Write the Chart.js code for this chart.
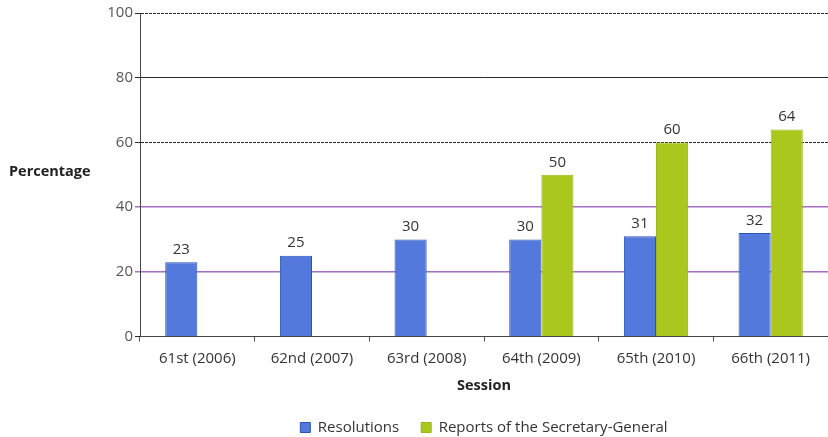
<!DOCTYPE html>
<html>
<head>
<meta charset="utf-8">
<script src="https://cdn.jsdelivr.net/npm/chart.js@4"></script>
<style>
  html, body { margin: 0; padding: 0; background: #fff; }
  #wrap { width: 828px; height: 437px; }
</style>
</head>
<body>
<div id="wrap"><canvas id="sessionChart"></canvas></div>
<script>
const sessions = ["61st (2006)", "62nd (2007)", "63rd (2008)", "64th (2009)", "65th (2010)", "66th (2011)"];
const resolutions = [23, 25, 30, 30, 31, 32];
const reports = [null, null, null, 50, 60, 64];
const yTicks = [0, 20, 40, 60, 80, 100];

const fontFamily = "'Open Sans', 'Noto Sans', sans-serif";

// value labels above each bar
const barLabels = {
    id: 'barLabels',
    afterDatasetsDraw(chart) {
        const ctx = chart.ctx;
        ctx.save();
        ctx.font = `15px ${fontFamily}`;
        ctx.fillStyle = '#333';
        ctx.textAlign = 'center';
        ctx.textBaseline = 'bottom';
        chart.data.datasets.forEach((ds, i) => {
            chart.getDatasetMeta(i).data.forEach((bar, j) => {
                if (ds.data[j] == null) return;
                ctx.fillText(ds.data[j], bar.x, bar.y - 5);
            });
        });
        ctx.restore();
    }
};

// horizontal y axis title on the left
const sideTitle = {
    id: 'sideTitle',
    afterDraw(chart) {
        const ctx = chart.ctx;
        const y = chart.scales.y.getPixelForValue(51);
        ctx.save();
        ctx.font = `bold 14.5px ${fontFamily}`;
        ctx.fillStyle = '#222';
        ctx.textAlign = 'left';
        ctx.textBaseline = 'middle';
        ctx.fillText('Percentage', 9, y);
        ctx.restore();
    }
};

new Chart(document.getElementById('sessionChart'), {
    type: 'bar',
    data: {
        labels: sessions,
        datasets: [
            {
                label: 'Resolutions',
                data: resolutions,
                backgroundColor: '#5479dc',
                borderColor: '#2a53b5',
                borderWidth: 1
            },
            {
                label: 'Reports of the Secretary-General',
                data: reports,
                backgroundColor: '#a9c71d',
                borderColor: '#9ab818',
                borderWidth: 1
            }
        ]
    },
    options: {
        responsive: true,
        maintainAspectRatio: false,
        animation: false,
        layout: { padding: { top: 13, right: 0, left: 0, bottom: -8 } },
        datasets: {
            bar: { categoryPercentage: 0.56, barPercentage: 1 }
        },
        scales: {
            x: {
                grid: { drawOnChartArea: false, offset: true, tickLength: 5, color: '#555' },
                border: { color: '#444', dash: [3, 1] },
                ticks: { color: '#333', font: { size: 15, family: fontFamily }, padding: 8 },
                title: {
                    display: true,
                    text: 'Session',
                    color: '#222',
                    font: { size: 14.5, weight: 'bold', family: fontFamily },
                    padding: { top: 2, bottom: 3 }
                }
            },
            y: {
                min: 0,
                max: 100,
                afterFit(scale) { scale.width = 140; },
                afterBuildTicks(scale) { scale.ticks = yTicks.map(v => ({ value: v })); },
                ticks: { color: '#555', font: { size: 15, family: fontFamily }, padding: 2 },
                grid: {
                    tickLength: 5,
                    lineWidth: (c) => (c.tick && (c.tick.value === 20 || c.tick.value === 40)) ? 1.5 : 1,
                    color: (c) => (c.tick && (c.tick.value === 20 || c.tick.value === 40)) ? '#a56fc4' : '#2a2a2a'
                },
                border: {
                    color: '#444',
                    dash: (c) => (c.tick && (c.tick.value === 100 || c.tick.value === 60)) ? [3, 1] : []
                }
            }
        },
        plugins: {
            legend: {
                position: 'bottom',
                fullSize: false,
                labels: {
                    boxWidth: 10,
                    boxHeight: 10,
                    padding: 22,
                    color: '#333',
                    font: { size: 15, family: fontFamily }
                }
            },
            tooltip: { enabled: false }
        }
    },
    plugins: [barLabels, sideTitle]
});
</script>
</body>
</html>
